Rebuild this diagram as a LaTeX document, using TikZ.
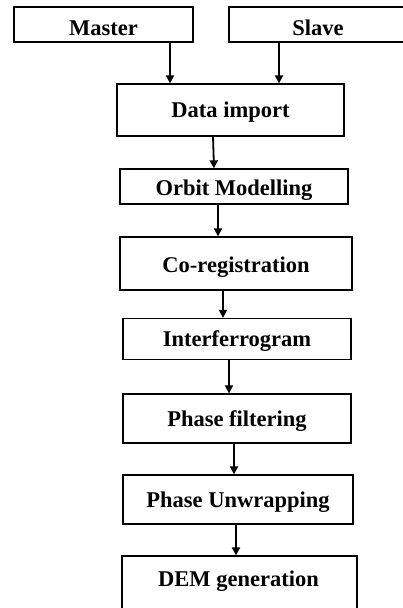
\documentclass[tikz,border=0pt]{standalone}
\usepackage{fontspec}
\setmainfont{Liberation Serif}
\usetikzlibrary{arrows.meta}
\tikzset{
  lbl/.style={inner sep=0pt, font=\fontsize{22.5}{24}\selectfont\bfseries,
    text height=15pt, text depth=0pt},
  box/.style={lbl, draw=black, line width=1.3pt, fill=white},
  arr/.style={line width=1.8pt, -{Triangle[length=8pt,width=8pt]}}
}
\begin{document}
\begin{tikzpicture}[x=1pt,y=-1pt]
\useasboundingbox (0,0) rectangle (403,608);
\clip (0,0) rectangle (403,608);
% boxes
\node[box, minimum width=179pt, minimum height=35pt] (master) at (103.5,24.5) {};
\node[lbl] at (103.5,28) {Master};
\node[box, minimum width=200pt, minimum height=35pt] (slave) at (329,24.5) {};
\node[lbl] at (318,28) {Slave};
\node[box, minimum width=227pt, minimum height=52pt] (di) at (230.5,110) {Data import};
\node[box, minimum width=228pt, minimum height=35pt] (om) at (234,186.5) {\raisebox{-1.5pt}{Orbit Modelling}};
\node[box, minimum width=232pt, minimum height=53pt] (co) at (236,263.5) {\raisebox{-1.5pt}{Co-registration}};
\node[box, minimum width=228pt, minimum height=41pt] (ifg) at (237,339) {Interferrogram};
\node[box, minimum width=228pt, minimum height=49pt] (pf) at (237,418.5) {Phase filtering};
\node[box, minimum width=230pt, minimum height=49pt] (pu) at (238,499.5) {Phase Unwrapping};
\node[box, minimum width=235pt, minimum height=80pt] (dem) at (239.5,596) {};
\node[lbl] at (238.5,579) {DEM generation};
% connectors
\draw[arr] (master.south -| 170,0) -- (di.north -| 170,0);
\draw[arr] (slave.south -| 279,0) -- (di.north -| 279,0);
\draw[arr] (di.south -| 213,0) -- (om.north -| 214,0);
\draw[arr] (om.south -| 218,0) -- (co.north -| 218,0);
\draw[arr] (co.south -| 223,0) -- (ifg.north -| 223,0);
\draw[arr] (ifg.south -| 229,0) -- (pf.north -| 229,0);
\draw[arr] (pf.south -| 234,0) -- (pu.north -| 234,0);
\draw[arr] (pu.south -| 236,0) -- (dem.north -| 236,0);
\end{tikzpicture}
\end{document}
